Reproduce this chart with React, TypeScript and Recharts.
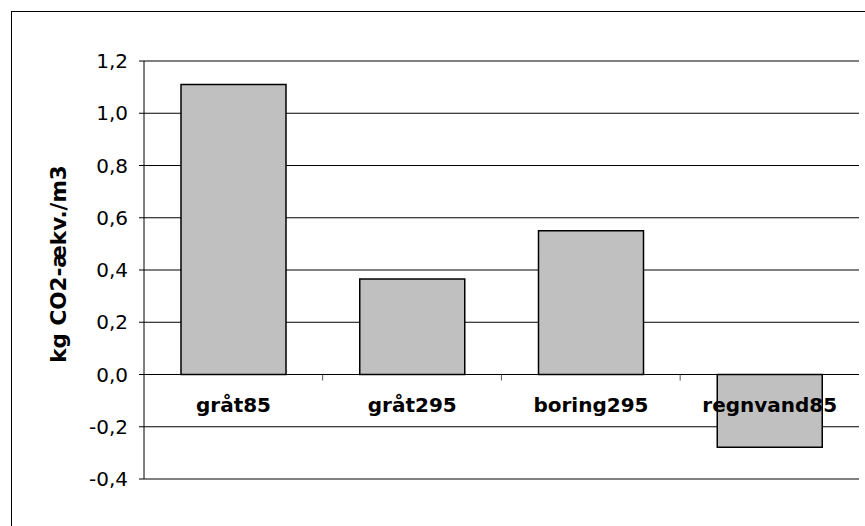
import React from 'react';
import { BarChart, Bar, XAxis, YAxis, CartesianGrid, ReferenceLine, LabelList } from 'recharts';

const categories = ['gråt85', 'gråt295', 'boring295', 'regnvand85'];
const values = [1.11, 0.366, 0.55, -0.278];
const yTicks = [-0.4, -0.2, 0, 0.2, 0.4, 0.6, 0.8, 1.0, 1.2];
const yAxisTitle = 'kg CO2-ækv./m3';

const data = categories.map((name, i) => ({ name, value: values[i] }));

const CAT_GAP = 0.207;
const FONT = '"DejaVu Sans", Verdana, sans-serif';
const BORDER = '#8c8c8c';

const fmt = (v: number) => v.toFixed(1).replace('.', ',');

function CategoryLabel(props: any) {
  const vb = props.viewBox && props.viewBox.width != null ? props.viewBox : props;
  const { x, y, width, height } = vb;
  const name = props.value;
  const index = categories.indexOf(name);
  const v = values[index];
  const top = Math.min(y, y + height);
  const bottom = Math.max(y, y + height);
  const zeroY = v >= 0 ? bottom : top;
  const cx = x + width / 2;
  const band = width / (1 - 2 * CAT_GAP);
  const left = cx - band / 2;
  return (
    <g>
      {index > 0 && <line x1={left} x2={left} y1={zeroY} y2={zeroY + 6} stroke="#555" strokeWidth={1} />}
      <text
        x={cx}
        y={zeroY + 37}
        textAnchor="middle"
        fontFamily={FONT}
        fontWeight="bold"
        fontSize={20}
        fill="#000"
      >
        {name}
      </text>
    </g>
  );
}

function YTitle(props: any) {
  const vb = props.viewBox || { x: 0, y: 0, width: 0, height: 0 };
  const cx = vb.x + 58;
  const cy = vb.y + vb.height / 2 - 6;
  return (
    <text
      x={cx}
      y={cy}
      transform={`rotate(-90, ${cx}, ${cy})`}
      textAnchor="middle"
      dominantBaseline="central"
      fontFamily={FONT}
      fontWeight="bold"
      fontSize={21.5}
      fill="#000"
    >
      {yAxisTitle}
    </text>
  );
}

export default function App() {
  return (
    <div style={{ position: 'absolute', left: 0, top: 0, width: 865, height: 526, overflow: 'hidden', background: '#fff' }}>
      <div
        style={{
          position: 'absolute',
          left: 11,
          top: 11,
          width: 900,
          height: 600,
          borderLeft: '1px solid #000',
          borderTop: '1px solid #000',
        }}
      />
      <div style={{ position: 'absolute', left: 0, top: 0 }}>
        <BarChart
          width={865}
          height={526}
          data={data}
          margin={{ top: 61, right: 6, bottom: 47, left: 0 }}
          barCategoryGap={`${CAT_GAP * 100}%`}
        >
          <CartesianGrid vertical={false} stroke="#000" />
          <XAxis
            dataKey="name"
            height={0}
            tick={false}
            tickLine={false}
            axisLine={{ stroke: BORDER, strokeWidth: 1.5 }}
          />
          <XAxis
            xAxisId="top"
            orientation="top"
            dataKey="name"
            height={0}
            tick={false}
            tickLine={false}
            axisLine={{ stroke: BORDER, strokeWidth: 1.5 }}
          />
          <YAxis
            domain={[-0.4, 1.2]}
            ticks={yTicks}
            interval={0}
            allowDataOverflow
            width={144}
            tickSize={5}
            tickMargin={11}
            tickFormatter={fmt}
            tick={{ fill: '#000', fontSize: 20, fontFamily: FONT }}
            axisLine={{ stroke: '#000' }}
            tickLine={{ stroke: '#000' }}
            label={<YTitle />}
          />
          <YAxis
            yAxisId="r"
            orientation="right"
            width={0}
            domain={[-0.4, 1.2]}
            tick={false}
            tickLine={false}
            axisLine={{ stroke: BORDER, strokeWidth: 1.5 }}
          />
          <ReferenceLine y={0} stroke="#000" />
          <Bar dataKey="value" fill="#c0c0c0" stroke="#000" strokeWidth={1.5} isAnimationActive={false}>
            <LabelList dataKey="name" content={CategoryLabel} />
          </Bar>
        </BarChart>
      </div>
    </div>
  );
}
